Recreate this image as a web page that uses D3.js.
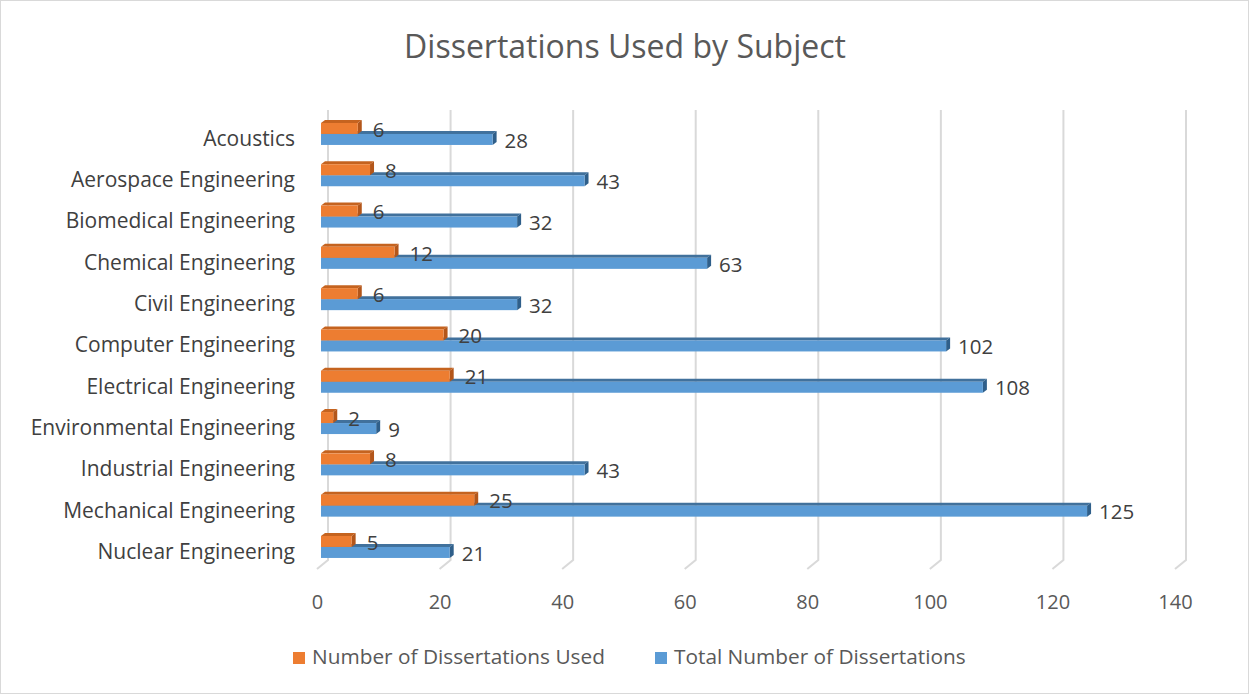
<!DOCTYPE html>
<html>
<head>
<meta charset="utf-8">
<script src="https://cdn.jsdelivr.net/npm/d3@7"></script>
<style>
  body { margin: 0; background: #fff; }
  text { font-family: "Open Sans", Lato, sans-serif; }
</style>
</head>
<body>
<svg width="1249" height="694"></svg>
<script>
let subjects = ['Acoustics', 'Aerospace Engineering', 'Biomedical Engineering', 'Chemical Engineering',
    'Civil Engineering', 'Computer Engineering', 'Electrical Engineering', 'Environmental Engineering',
    'Industrial Engineering', 'Mechanical Engineering', 'Nuclear Engineering'];
let usedCounts = [6, 8, 6, 12, 6, 20, 21, 2, 8, 25, 5];
let totalCounts = [28, 43, 32, 63, 32, 102, 108, 9, 43, 125, 21];
let xTicks = [0, 20, 40, 60, 80, 100, 120, 140];
let seriesNames = ['Number of Dissertations Used', 'Total Number of Dissertations'];

let svg = d3.select('svg');
let W = 1249, H = 694;

svg.append('rect').attr('x', 0.5).attr('y', 0.5).attr('width', W - 1).attr('height', H - 1)
    .attr('fill', '#fff').attr('stroke', '#d9d9d9');

svg.append('text').attr('x', 625).attr('y', 58).attr('text-anchor', 'middle')
    .attr('font-size', 32).attr('fill', '#595959').text('Dissertations Used by Subject');

// scales ---------------------------------------------------------------
let x = d3.scaleLinear().domain([0, 140]).range([321, 1179]);
let y = d3.scaleBand().domain(subjects).range([113.3, 567.6]);
let barH = 11;
let dep = {'x': 4, 'y': -3};
let wall = {'x': 7, 'top': 110, 'bottom': 560};

// gridlines on the back wall + floor edge
let grid = svg.append('g');
xTicks.forEach((t) => {
    let gx = x(t) + wall.x;
    grid.append('path')
        .attr('d', `M${gx},${wall.top} L${gx},${wall.bottom} L${gx - 11},${wall.bottom + 9}`)
        .attr('fill', 'none').attr('stroke', '#d9d9d9').attr('stroke-width', 2);
});

// axis labels
let xAxis = d3.axisBottom(x).tickValues(xTicks).tickSize(0).tickPadding(0);
let ax = svg.append('g').attr('transform', 'translate(-4, 609)').call(xAxis);
ax.select('.domain').remove();
ax.selectAll('text').attr('font-size', 20).attr('fill', '#595959').attr('font-family', '"Open Sans", sans-serif')
    .attr('dy', 0);

// bars -----------------------------------------------------------------
function bar3d(g, y0, v, front, side, top) {
    let x0 = x(0), x1 = x(v);
    g.append('path')
        .attr('d', `M${x0},${y0} L${x0 + dep.x},${y0 + dep.y} L${x1 + dep.x},${y0 + dep.y} L${x1},${y0} Z`)
        .attr('fill', top);
    g.append('path')
        .attr('d', `M${x1},${y0} L${x1 + dep.x},${y0 + dep.y} L${x1 + dep.x},${y0 + barH + dep.y} L${x1},${y0 + barH} Z`)
        .attr('fill', side);
    g.append('rect').attr('x', x0).attr('y', y0).attr('width', x1 - x0).attr('height', barH)
        .attr('fill', front);
}

let bars = svg.append('g');
subjects.forEach((s, i) => {
    let c = y(s) + y.bandwidth() / 2;
    let g = bars.append('g');
    bar3d(g, c, totalCounts[i], '#5b9bd5', '#2f5f8a', '#41719c');
    bar3d(g, c - barH, usedCounts[i], '#ed7d31', '#b3561a', '#c5631f');

    g.append('text').attr('x', x(usedCounts[i]) + 15).attr('y', c - barH / 2 + 1)
        .attr('dy', '0.35em').attr('font-size', 20.5).attr('fill', '#404040').text(usedCounts[i]);
    g.append('text').attr('x', x(totalCounts[i]) + 12).attr('y', c + barH / 2 + 1)
        .attr('dy', '0.35em').attr('font-size', 20.5).attr('fill', '#404040').text(totalCounts[i]);

    svg.append('text').attr('x', 295).attr('y', c + 4.5).attr('dy', '0.35em')
        .attr('text-anchor', 'end').attr('font-size', 21).attr('fill', '#404040').text(s);
});

// legend ---------------------------------------------------------------
let legendX = [293, 655];
let legendCol = ['#ed7d31', '#5b9bd5'];
seriesNames.forEach((n, i) => {
    svg.append('rect').attr('x', legendX[i]).attr('y', 652).attr('width', 12).attr('height', 12)
        .attr('fill', legendCol[i]);
    svg.append('text').attr('x', legendX[i] + 19).attr('y', 657).attr('dy', '0.35em')
        .attr('font-size', 20.8).attr('fill', '#595959').text(n);
});
</script>
</body>
</html>
